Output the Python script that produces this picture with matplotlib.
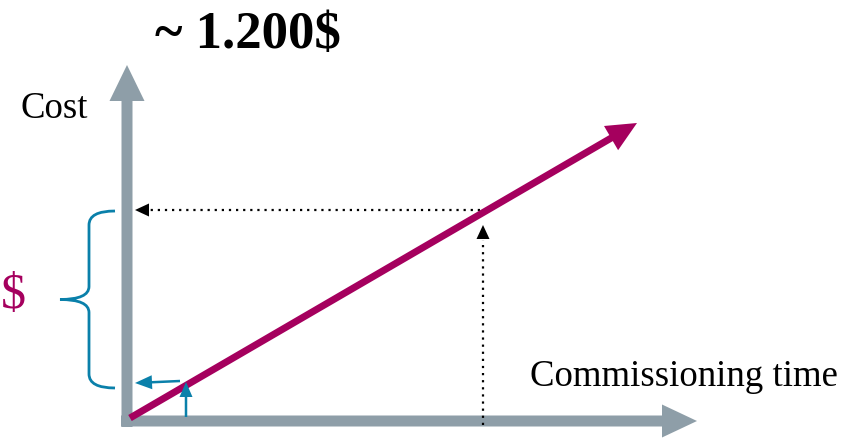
import matplotlib.pyplot as plt
from matplotlib.path import Path
from matplotlib.patches import PathPatch

# Diagram values (units = pixels from the axes corner, x to the right, y up)
axis_time_end = 570          # tip of the horizontal axis arrow
axis_cost_end = 356          # tip of the vertical axis arrow
cost_line_t = [3, 510]       # cost grows linearly with commissioning time
cost_line_c = [3, 298]
read_time = 356              # marked commissioning time
read_cost = 211              # matching cost
small_time = 59              # small time step at the start
small_cost = 39
brace_top = 210
brace_bottom = 33

labels = {
    "cost": "Cost",
    "time": "Commissioning time",
    "total": "~ 1.200$",
    "dollar": "$",
}

grey = "#8E9EA8"
magenta = "#A5005E"
blue = "#0A80AA"

plt.rcParams["font.family"] = ["Liberation Serif", "DejaVu Serif"]

fig = plt.figure(figsize=(8.56, 4.38), dpi=100)
ax = fig.add_axes([0, 0, 1, 1])
ax.set_xlim(-127, 729)
ax.set_ylim(-17, 421)
ax.axis("off")

# -----------------------------
# Axes arrows
# -----------------------------
ax.arrow(0, -6, 0, axis_cost_end + 6, width=11, head_width=35, head_length=36,
         length_includes_head=True, color=grey, lw=0, zorder=1)
ax.arrow(-6, 0, axis_time_end + 6, 0, width=11, head_width=33, head_length=35,
         length_includes_head=True, color=grey, lw=0, zorder=1)

# -----------------------------
# Cost line
# -----------------------------
ax.arrow(cost_line_t[0], cost_line_c[0],
         cost_line_t[1] - cost_line_t[0], cost_line_c[1] - cost_line_c[0],
         width=7, head_width=28, head_length=30, length_includes_head=True,
         color=magenta, lw=0, zorder=3)

# -----------------------------
# Dotted read-off lines
# -----------------------------
ax.plot([read_time, read_time], [-4, read_cost - 30], ls=(0, (1, 2.2)),
        color="black", lw=1.6, zorder=2)
ax.arrow(read_time, read_cost - 29, 0, 14, width=0, head_width=13,
         head_length=14, length_includes_head=True, color="black", lw=0, zorder=4)
ax.plot([read_time - 3, 20], [read_cost, read_cost], ls=(0, (1, 2.2)),
        color="black", lw=1.6, zorder=2)
ax.arrow(22, read_cost, -14, 0, width=0, head_width=13, head_length=14,
         length_includes_head=True, color="black", lw=0, zorder=4)

# -----------------------------
# Small blue arrows at the start
# -----------------------------
ax.arrow(small_time, 4, 0, small_cost - 4, width=2.5, head_width=13, head_length=15,
         length_includes_head=True, color=blue, lw=0, zorder=4)
ax.arrow(small_time - 6, small_cost + 1, -(small_time - 14), -2, width=2.5,
         head_width=14, head_length=17, length_includes_head=True,
         color=blue, lw=0, zorder=4)

# -----------------------------
# Curly brace
# -----------------------------
x_end, x_mid, x_tip = -12, -38, -67
y_mid = (brace_top + brace_bottom) / 2
verts = [
    (x_end, brace_top), (x_mid, brace_top), (x_mid, brace_top - 14),
    (x_mid, y_mid + 13),
    (x_mid, y_mid), (x_tip, y_mid),
    (x_mid, y_mid), (x_mid, y_mid - 13),
    (x_mid, brace_bottom + 14),
    (x_mid, brace_bottom), (x_end, brace_bottom),
]
codes = [Path.MOVETO, Path.CURVE3, Path.CURVE3, Path.LINETO,
         Path.CURVE3, Path.CURVE3, Path.CURVE3, Path.CURVE3,
         Path.LINETO, Path.CURVE3, Path.CURVE3]
ax.add_patch(PathPatch(Path(verts, codes), fill=False, edgecolor=blue, lw=2))

# -----------------------------
# Text
# -----------------------------
ax.text(-107, 303, labels["cost"], fontsize=26.5, va="baseline", ha="left")
ax.text(403, 35, labels["time"], fontsize=26.5, va="baseline", ha="left")
ax.text(28, 373, labels["total"], fontsize=38, fontweight="bold",
        va="baseline", ha="left")
ax.text(-126, 113, labels["dollar"], fontsize=36, color=magenta,
        va="baseline", ha="left")

fig.savefig("out.png", dpi=100)
plt.close(fig)
